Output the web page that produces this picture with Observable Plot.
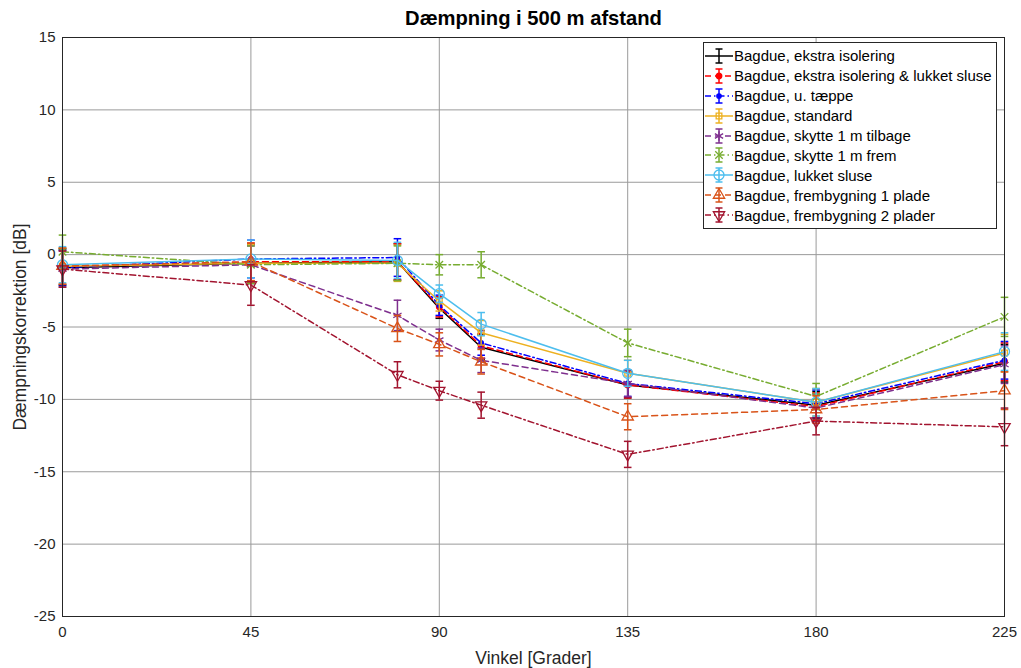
<!DOCTYPE html>
<html>
<head>
<meta charset="utf-8">
<script src="https://cdn.jsdelivr.net/npm/d3@7"></script>
<script src="https://cdn.jsdelivr.net/npm/@observablehq/plot@0.6"></script>
<style>
  html, body { margin: 0; padding: 0; background: #fff; }
  #wrap { position: relative; width: 1021px; height: 668px; font-family: "Liberation Sans", Arial, Helvetica, sans-serif; }
  #legend { position: absolute; left: 703px; top: 42px; width: 292px; height: 182px; background: #fff; border: 1px solid #262626; padding-top: 3px; box-sizing: content-box; }
  .row { display: flex; align-items: center; height: 19.9px; font-size: 15px; color: #000; white-space: nowrap; }
  .row svg { display: block; margin-left: 1px; margin-right: 1px; }
</style>
</head>
<body>
<div id="wrap"></div>
<script>
// ---- data ----
const angles = [0, 45, 80, 90, 100, 135, 180, 225];
const xTicks = [0, 45, 90, 135, 180, 225];
const yTicks = [-25, -20, -15, -10, -5, 0, 5, 10, 15];
const titleText = "Dæmpning i 500 m afstand";
const xLabel = "Vinkel [Grader]";
const yLabel = "Dæmpningskorrektion [dB]";

const seriesNames = [
  "Bagdue, ekstra isolering",
  "Bagdue, ekstra isolering & lukket sluse",
  "Bagdue, u. tæppe",
  "Bagdue, standard",
  "Bagdue, skytte 1 m tilbage",
  "Bagdue, skytte 1 m frem",
  "Bagdue, lukket sluse",
  "Bagdue, frembygning 1 plade",
  "Bagdue, frembygning 2 plader"
];

const ekstraIsolering        = [-0.9, -0.6, -0.5, -3.7, -6.4, -9.0, -10.4, -7.5];
const ekstraIsoleringLukket  = [-0.8, -0.5, -0.5, -3.6, -6.3, -9.0, -10.5, -7.4];
const uTaeppe                = [-0.9, -0.3, -0.2, -3.5, -6.1, -8.9, -10.3, -7.3];
const standard               = [-0.8, -0.6, -0.6, -3.2, -5.4, -8.2, -10.2, -6.8];
const skytteTilbage          = [-1.0, -0.7, -4.2, -5.9, -7.3, -8.9, -10.6, -7.6];
const skytteFrem             = [0.2, -0.7, -0.6, -0.7, -0.7, -6.1, -9.8, -4.3];
const lukketSluse            = [-0.7, -0.3, -0.4, -2.7, -4.8, -8.2, -10.2, -6.7];
const frembygning1           = [-0.8, -0.5, -5.1, -6.2, -7.4, -11.2, -10.7, -9.4];
const frembygning2           = [-1.0, -2.1, -8.3, -9.4, -10.4, -13.8, -11.5, -11.9];

const ekstraIsoleringErr       = [1.25, 1.3, 1.25, 0.7, 0.85, 0.9, 0.95, 1.3];
const ekstraIsoleringLukketErr = [1.25, 1.3, 1.25, 0.7, 0.85, 0.9, 0.95, 1.3];
const uTaeppeErr               = [1.2, 1.3, 1.3, 0.7, 0.85, 0.9, 0.95, 1.3];
const standardErr              = [1.25, 1.3, 1.25, 0.7, 0.85, 0.9, 0.95, 1.3];
const skytteTilbageErr         = [1.25, 1.3, 1.05, 0.75, 0.85, 0.9, 0.95, 1.3];
const skytteFremErr            = [1.15, 1.3, 1.2, 0.7, 0.9, 0.95, 0.9, 1.35];
const lukketSluseErr           = [1.25, 1.3, 1.25, 0.6, 0.8, 0.9, 0.95, 1.3];
const frembygning1Err          = [1.25, 1.3, 0.9, 0.8, 0.85, 0.9, 0.95, 1.3];
const frembygning2Err          = [1.25, 1.4, 0.9, 0.65, 0.9, 0.9, 0.95, 1.3];

const seriesValues = [ekstraIsolering, ekstraIsoleringLukket, uTaeppe, standard, skytteTilbage, skytteFrem, lukketSluse, frembygning1, frembygning2];
const seriesErrors = [ekstraIsoleringErr, ekstraIsoleringLukketErr, uTaeppeErr, standardErr, skytteTilbageErr, skytteFremErr, lukketSluseErr, frembygning1Err, frembygning2Err];

// ---- styles ----
const DASH = "6,4", DASHDOT = "6,3,1.5,3";
const styles = [
  {color: "#000000", dash: null,    symbol: null,       r: 0,   fill: "none"},
  {color: "#FF0000", dash: DASH,    symbol: "circle",   r: 2.8, fill: "#FF0000"},
  {color: "#0000FF", dash: DASHDOT, symbol: "circle",   r: 2.2, fill: "#0000FF"},
  {color: "#EDB120", dash: null,    symbol: "square",   r: 3.2, fill: "none"},
  {color: "#7E2F8E", dash: DASH,    symbol: "asterisk", r: 4.5, fill: "none"},
  {color: "#77AC30", dash: DASHDOT, symbol: "times",    r: 3.5, fill: "none"},
  {color: "#4DBEEE", dash: null,    symbol: "circle",   r: 5,   fill: "none"},
  {color: "#D95319", dash: DASH,    symbol: "triangle", r: 4.2, fill: "none", rotate: 0},
  {color: "#A2142F", dash: DASHDOT, symbol: "triangle", r: 4.2, fill: "none", rotate: 180}
];

const capSymbol = {
  draw(context, size) {
    const w = Math.sqrt(size / Math.PI);
    context.moveTo(-w, 0);
    context.lineTo(w, 0);
  }
};

const fmt = d => String(d);

const marks = [
  Plot.gridX(xTicks, {stroke: "#9a9a9a", strokeOpacity: 1}),
  Plot.gridY(yTicks, {stroke: "#9a9a9a", strokeOpacity: 1}),
  Plot.axisX(xTicks, {tickSize: 0, tickPadding: 10, fontSize: 15, fill: "#262626", label: null, tickFormat: fmt}),
  Plot.axisY(yTicks, {tickSize: 0, tickPadding: 7, fontSize: 15, fill: "#262626", label: null, tickFormat: fmt})
];

seriesNames.forEach((name, i) => {
  const st = styles[i];
  const rows = angles.map((a, j) => ({x: a, y: seriesValues[i][j], e: seriesErrors[i][j]}));
  marks.push(
    Plot.ruleX(rows, {x: "x", y1: d => d.y - d.e, y2: d => d.y + d.e, stroke: st.color, strokeWidth: 1.5}),
    Plot.dot(rows, {x: "x", y: d => d.y + d.e, symbol: capSymbol, r: 3.8, stroke: st.color, fill: "none", strokeWidth: 1.5}),
    Plot.dot(rows, {x: "x", y: d => d.y - d.e, symbol: capSymbol, r: 3.8, stroke: st.color, fill: "none", strokeWidth: 1.5}),
    Plot.line(rows, {x: "x", y: "y", stroke: st.color, strokeWidth: 1.5, strokeDasharray: st.dash || undefined})
  );
  if (st.symbol) {
    marks.push(Plot.dot(rows, {x: "x", y: "y", symbol: st.symbol, r: st.r, stroke: st.color, fill: st.fill, strokeWidth: 1.3, rotate: st.rotate || 0}));
  }
});

marks.push(
  Plot.frame({stroke: "#262626", strokeWidth: 1}),
  Plot.text([titleText], {text: d => d, frameAnchor: "top", dy: -19, lineAnchor: "middle", textAnchor: "middle", fontSize: 20.2, fontWeight: "bold", fill: "#000"}),
  Plot.text([xLabel], {text: d => d, frameAnchor: "bottom", dy: 42, lineAnchor: "middle", textAnchor: "middle", fontSize: 17.5, fill: "#262626"}),
  Plot.text([yLabel], {text: d => d, frameAnchor: "left", dx: -42, rotate: -90, lineAnchor: "middle", textAnchor: "middle", fontSize: 17.5, fill: "#262626"})
);

const chart = Plot.plot({
  width: 1021,
  height: 668,
  marginLeft: 62,
  marginRight: 17,
  marginTop: 37,
  marginBottom: 52,
  style: {fontFamily: "'Liberation Sans', Arial, Helvetica, sans-serif", background: "#fff", overflow: "visible"},
  x: {domain: [0, 225]},
  y: {domain: [-25, 15]},
  marks
});

const wrap = document.getElementById("wrap");
wrap.appendChild(chart);

// ---- legend ----
const legend = document.createElement("div");
legend.id = "legend";
seriesNames.forEach((name, i) => {
  const st = styles[i];
  const row = document.createElement("div");
  row.className = "row";
  const svg = d3.create("svg").attr("width", 28).attr("height", 20);
  svg.append("line").attr("x1", 0).attr("x2", 28).attr("y1", 10).attr("y2", 10)
    .attr("stroke", st.color).attr("stroke-width", 1.5).attr("stroke-dasharray", st.dash);
  svg.append("line").attr("x1", 14).attr("x2", 14).attr("y1", 3).attr("y2", 17)
    .attr("stroke", st.color).attr("stroke-width", 1.5);
  svg.append("line").attr("x1", 10.5).attr("x2", 17.5).attr("y1", 3).attr("y2", 3)
    .attr("stroke", st.color).attr("stroke-width", 1.5);
  svg.append("line").attr("x1", 10.5).attr("x2", 17.5).attr("y1", 17).attr("y2", 17)
    .attr("stroke", st.color).attr("stroke-width", 1.5);
  if (st.symbol) {
    const symMap = {circle: d3.symbolCircle, square: d3.symbolSquare, asterisk: d3.symbolAsterisk, times: d3.symbolTimes, triangle: d3.symbolTriangle};
    svg.append("path")
      .attr("d", d3.symbol(symMap[st.symbol], Math.PI * st.r * st.r)())
      .attr("transform", `translate(14,10) rotate(${st.rotate || 0})`)
      .attr("stroke", st.color).attr("stroke-width", 1.3).attr("fill", st.fill);
  }
  row.appendChild(svg.node());
  const span = document.createElement("span");
  span.textContent = name;
  row.appendChild(span);
  legend.appendChild(row);
});
wrap.appendChild(legend);
</script>
</body>
</html>
